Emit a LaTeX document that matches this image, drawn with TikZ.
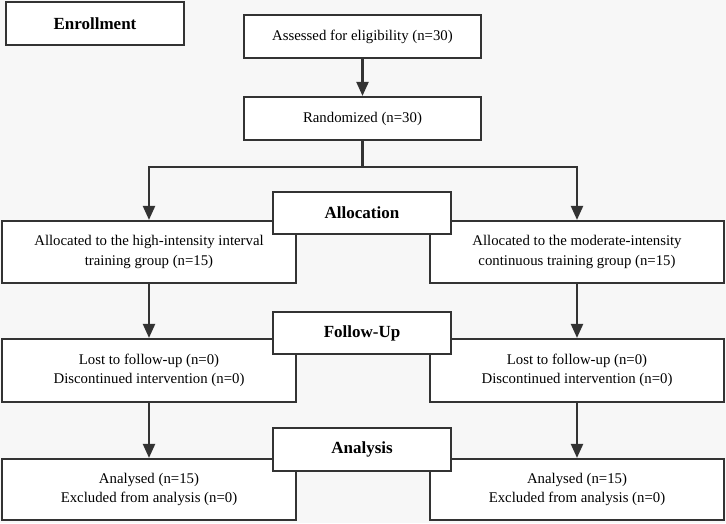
\documentclass[tikz,border=0pt]{standalone}
\usepackage{fontspec}
\setmainfont{Liberation Serif}
\usetikzlibrary{arrows.meta}

\definecolor{bgcol}{HTML}{F7F7F7}
\definecolor{linecol}{HTML}{333333}

\tikzset{
    box/.style={draw=linecol, fill=white, line width=2.2pt, align=center,
        inner sep=0pt, font=\fontsize{14.8}{19.5}\selectfont},
    stagebox/.style={box, minimum width=178pt, minimum height=42pt,
        font=\fontsize{17}{20}\selectfont\bfseries},
    flowarrow/.style={draw=linecol, line width=2.2pt,
        -{Triangle[length=14pt, width=12pt]}},
}

\begin{document}
\begin{tikzpicture}[x=1pt, y=-1pt]
    \fill[bgcol] (0, 0) rectangle (726, 523);
    \useasboundingbox (0, 0) rectangle (726, 523);

    \node[stagebox, minimum height=43pt] (enroll) at (95, 23.5) {Enrollment};
    \node[box, minimum width=237pt, minimum height=43pt] (assess) at (362.5, 36.5) {Assessed for eligibility (n=30)};
    \node[box, minimum width=237pt, minimum height=43pt] (random) at (362.5, 118.5) {Randomized (n=30)};

    \node[box, minimum width=294pt, minimum height=62pt] (hiit) at (149, 252) {Allocated to the high-intensity interval\\training group (n=15)};
    \node[box, minimum width=294pt, minimum height=62pt] (mict) at (577, 252) {Allocated to the moderate-intensity\\continuous training group (n=15)};

    \node[box, minimum width=294pt, minimum height=63pt] (lostl) at (149, 370.5) {Lost to follow-up (n=0)\\Discontinued intervention (n=0)};
    \node[box, minimum width=294pt, minimum height=63pt] (lostr) at (577, 370.5) {Lost to follow-up (n=0)\\Discontinued intervention (n=0)};

    \node[box, minimum width=294pt, minimum height=61pt] (anl) at (149, 489.5) {Analysed (n=15)\\Excluded from analysis (n=0)};
    \node[box, minimum width=294pt, minimum height=61pt] (anr) at (577, 489.5) {Analysed (n=15)\\Excluded from analysis (n=0)};

    \node[stagebox] (alloc) at (362, 213) {Allocation};
    \node[stagebox] (follow) at (362, 333) {Follow-Up};
    \node[stagebox, minimum height=43pt] (analysis) at (362, 449.5) {Analysis};

    \coordinate (split) at (362.5, 167);

    \draw[flowarrow] (assess) -- (random);
    \draw[flowarrow] (random.south) -- (split) -| (hiit.north);
    \draw[flowarrow] (split) -| (mict.north);
    \draw[flowarrow] (hiit) -- (lostl);
    \draw[flowarrow] (mict) -- (lostr);
    \draw[flowarrow] (lostl) -- (anl);
    \draw[flowarrow] (lostr) -- (anr);
\end{tikzpicture}
\end{document}
